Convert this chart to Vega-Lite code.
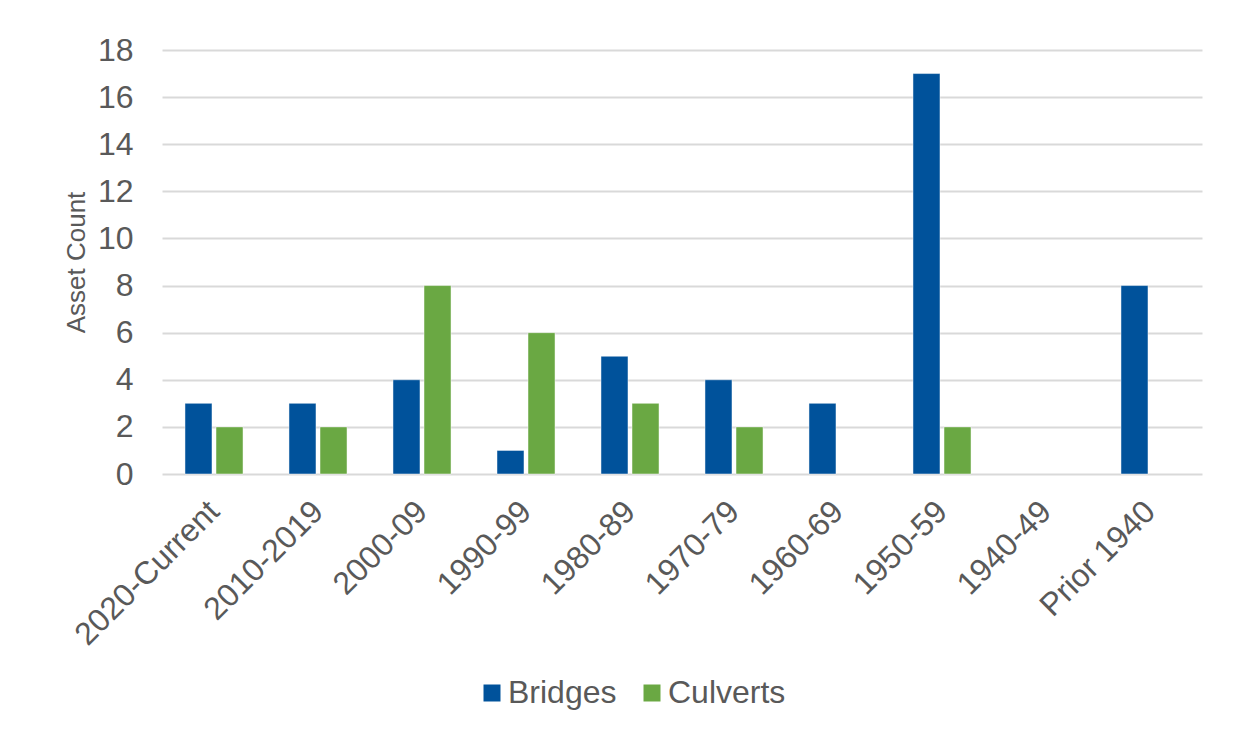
{
  "$schema": "https://vega.github.io/schema/vega-lite/v6.json",
  "autosize": {"type": "none"},
  "width": 1040,
  "height": 424,
  "padding": {"left": 162, "top": 50, "right": 42, "bottom": 277},
  "background": "white",
  "config": {
    "font": "Liberation Sans",
    "view": {"stroke": null},
    "axis": {
      "labelColor": "#595959",
      "titleColor": "#595959",
      "labelFont": "Liberation Sans",
      "titleFont": "Liberation Sans",
      "labelFontWeight": "normal",
      "titleFontWeight": "normal"
    },
    "legend": {
      "labelColor": "#595959",
      "labelFont": "Liberation Sans"
    }
  },
  "data": {
    "values": [
      {"period": "2020-Current", "type": "Bridges", "count": 3},
      {"period": "2020-Current", "type": "Culverts", "count": 2},
      {"period": "2010-2019", "type": "Bridges", "count": 3},
      {"period": "2010-2019", "type": "Culverts", "count": 2},
      {"period": "2000-09", "type": "Bridges", "count": 4},
      {"period": "2000-09", "type": "Culverts", "count": 8},
      {"period": "1990-99", "type": "Bridges", "count": 1},
      {"period": "1990-99", "type": "Culverts", "count": 6},
      {"period": "1980-89", "type": "Bridges", "count": 5},
      {"period": "1980-89", "type": "Culverts", "count": 3},
      {"period": "1970-79", "type": "Bridges", "count": 4},
      {"period": "1970-79", "type": "Culverts", "count": 2},
      {"period": "1960-69", "type": "Bridges", "count": 3},
      {"period": "1950-59", "type": "Bridges", "count": 17},
      {"period": "1950-59", "type": "Culverts", "count": 2},
      {"period": "Prior 1940", "type": "Bridges", "count": 8}
    ]
  },
  "mark": {"type": "bar", "stroke": "white", "strokeWidth": 0.8, "strokeOpacity": 0.6},
  "encoding": {
    "x": {
      "field": "period",
      "type": "nominal",
      "scale": {
        "domain": ["2020-Current", "2010-2019", "2000-09", "1990-99", "1980-89", "1970-79", "1960-69", "1950-59", "1940-49", "Prior 1940"],
        "paddingInner": 0.442,
        "paddingOuter": 0.221
      },
      "axis": {
        "title": null,
        "labelAngle": -45,
        "labelAlign": "right",
        "labelBaseline": "middle",
        "labelFontSize": 32,
        "labelPadding": 32,
        "ticks": false,
        "domain": false,
        "labelOverlap": false,
        "labelLimit": 400
      }
    },
    "xOffset": {
      "field": "type",
      "type": "nominal",
      "scale": {"domain": ["Bridges", "Culverts"], "paddingInner": 0.129, "paddingOuter": 0}
    },
    "y": {
      "field": "count",
      "type": "quantitative",
      "scale": {"domain": [0, 18], "nice": false},
      "axis": {
        "title": "Asset Count",
        "titleFontSize": 26,
        "titleAngle": -90,
        "titleAlign": "center",
        "titleBaseline": "middle",
        "titleX": -86,
        "titleY": 212,
        "values": [0, 2, 4, 6, 8, 10, 12, 14, 16, 18],
        "labelFontSize": 32,
        "labelPadding": 29,
        "ticks": false,
        "domain": false,
        "grid": true,
        "gridColor": "#d9d9d9",
        "gridWidth": 2
      }
    },
    "color": {
      "field": "type",
      "type": "nominal",
      "scale": {"domain": ["Bridges", "Culverts"], "range": ["#00529b", "#6aa843"]},
      "legend": {
        "title": null,
        "orient": "none",
        "direction": "horizontal",
        "legendX": 314,
        "legendY": 627,
        "symbolType": "square",
        "symbolSize": 289,
        "symbolStrokeWidth": 0,
        "labelFontSize": 32,
        "labelOffset": 0,
        "columnPadding": 19
      }
    }
  }
}
